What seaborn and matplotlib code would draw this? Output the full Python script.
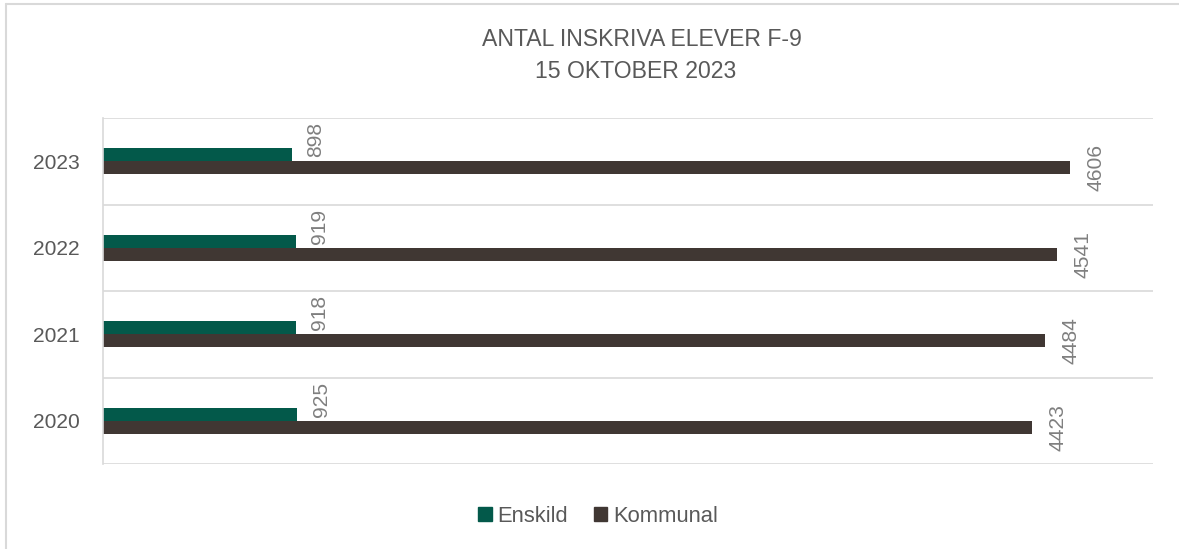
import matplotlib
matplotlib.use("Agg")
import matplotlib.pyplot as plt
from matplotlib.lines import Line2D
import seaborn as sns
import pandas as pd

# ---- data ----
years = ["2023", "2022", "2021", "2020"]
enskild = [898, 919, 918, 925]
kommunal = [4606, 4541, 4484, 4423]
series_names = ["Enskild", "Kommunal"]
title_lines = ["ANTAL INSKRIVA ELEVER F-9", "15 OKTOBER 2023"]

colors = ["#03594A", "#403733"]
text_col = "#595959"
label_col = "#7F7F7F"
grid_col = "#D9D9D9"

df = pd.DataFrame({
    "year": years * 2,
    "value": enskild + kommunal,
    "type": [series_names[0]] * len(years) + [series_names[1]] * len(years),
})

sns.set_theme(style="white")
plt.rcParams["font.family"] = ["Liberation Sans", "DejaVu Sans"]

DPI = 100
px = 72 / DPI
fig = plt.figure(figsize=(11.79, 5.49), dpi=DPI)
ax = fig.add_axes([103 / 1179, 1 - 464 / 549, (1153 - 103) / 1179, (464 - 118) / 549])

sns.barplot(data=df, x="value", y="year", hue="type", order=years,
            hue_order=series_names, palette=colors, orient="h",
            width=0.3, ax=ax, saturation=1, linewidth=0)

ax.set_xlim(0, 5000)
ax.set_ylim(len(years) - 0.5, -0.5)
for b in [i - 0.5 for i in range(len(years) + 1)]:
    ax.axhline(b, color=grid_col, lw=1.2, zorder=0)

for s in ["top", "right", "bottom"]:
    ax.spines[s].set_visible(False)
ax.spines["left"].set_color(grid_col)
ax.spines["left"].set_linewidth(1.2)
ax.set_xticks([])
ax.set_xlabel("")
ax.set_ylabel("")
ax.tick_params(axis="y", length=0, pad=17, labelsize=21 * px, labelcolor=text_col)

# data labels
offsets = [(24, 15), (26, 0)]
for cont, (dx, dy) in zip(ax.containers, offsets):
    for bar in cont:
        w = bar.get_width()
        yc = bar.get_y() + bar.get_height() / 2
        ax.annotate(f"{int(round(w))}", xy=(w, yc), xytext=(dx, dy),
                    textcoords="offset pixels", rotation=90,
                    ha="center", va="center", fontsize=21 * px, color=label_col)

# legend
leg = ax.get_legend()
if leg is not None:
    leg.remove()
handles = [plt.Rectangle((0, 0), 1, 1, color=c) for c in colors]
fig.legend(handles, series_names, loc="center", bbox_to_anchor=(598 / 1179, 1 - 516 / 549),
           ncol=2, frameon=False, fontsize=22 * px, labelcolor=text_col,
           handlelength=0.6, handleheight=0.6, handletextpad=0.25, columnspacing=1.2)

# title
fig.text(642 / 1179, 1 - 39 / 549, title_lines[0], ha="center", va="center",
         fontsize=23 * px, color=text_col)
fig.text(636 / 1179, 1 - 71 / 549, title_lines[1], ha="center", va="center",
         fontsize=23 * px, color=text_col)

# outer chart border (top and left visible)
fig.add_artist(Line2D([6 / 1179, 6 / 1179], [0, 1 - 4 / 549], transform=fig.transFigure,
                      color=grid_col, lw=1.5))
fig.add_artist(Line2D([6 / 1179, 1], [1 - 4 / 549, 1 - 4 / 549], transform=fig.transFigure,
                      color=grid_col, lw=1.5))

fig.savefig("out.png", dpi=DPI, facecolor="white")
